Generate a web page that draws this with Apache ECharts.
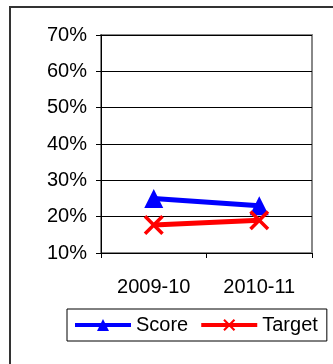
<!DOCTYPE html>
<html>
<head>
<meta charset="utf-8">
<script src="https://cdn.jsdelivr.net/npm/echarts@6/dist/echarts.min.js"></script>
<style>
  html, body { margin: 0; padding: 0; background: #fff; }
  #chart { width: 333px; height: 364px; }
</style>
</head>
<body>
<div id="chart"></div>
<script>
// Season categories and series values (percent)
const categories = ['2009-10', '2010-11'];
const scoreValues = [25, 23];
const targetValues = [17.7, 19];
const yTicks = { min: 10, max: 70, step: 10 };

const FONT = 'Liberation Sans, Arial, sans-serif';
const CROSS = 'path://M0,2.5 L2.5,0 L10,7.5 L17.5,0 L20,2.5 L12.5,10 L20,17.5 L17.5,20 L10,12.5 L2.5,20 L0,17.5 L7.5,10 Z';

const chart = echarts.init(document.getElementById('chart'), null, { renderer: 'canvas' });

chart.setOption({
  backgroundColor: '#fff',
  animation: false,
  graphic: [{
    type: 'rect',
    shape: { x: 10, y: 7, width: 340, height: 370 },
    style: { fill: 'none', stroke: '#333', lineWidth: 2 },
    silent: true
  }],
  grid: {
    left: 101, top: 35, width: 211, height: 218,
    show: true, borderColor: '#888', borderWidth: 2, backgroundColor: 'transparent'
  },
  legend: {
    left: 67, top: 309,
    padding: [6, 9, 6, 6],
    itemWidth: 56, itemHeight: 15, itemGap: 11,
    borderColor: '#000', borderWidth: 1,
    lineStyle: { width: 4 },
    textStyle: { fontFamily: FONT, fontSize: 20, color: '#000' },
    data: ['Score', 'Target']
  },
  xAxis: {
    type: 'category',
    data: categories,
    boundaryGap: true,
    axisLine: { lineStyle: { color: '#000', width: 1 } },
    axisTick: { show: true, length: 5, lineStyle: { color: '#000' } },
    axisLabel: { fontFamily: FONT, fontSize: 20, color: '#000', margin: 24 },
    splitLine: { show: false }
  },
  yAxis: {
    type: 'value',
    min: yTicks.min, max: yTicks.max, interval: yTicks.step,
    axisLine: { show: true, lineStyle: { color: '#000', width: 1 } },
    axisTick: { show: true, length: 5, lineStyle: { color: '#000' } },
    axisLabel: { fontFamily: FONT, fontSize: 20, color: '#000', margin: 14, formatter: '{value}%' },
    splitLine: { show: true, lineStyle: { color: '#000', width: 1 } }
  },
  series: [
    {
      name: 'Score', type: 'line', data: scoreValues,
      symbol: 'triangle', symbolSize: [19, 19],
      lineStyle: { color: '#0000ff', width: 5 },
      itemStyle: { color: '#0000ff' }
    },
    {
      name: 'Target', type: 'line', data: targetValues,
      symbol: CROSS, symbolSize: 20,
      lineStyle: { color: '#ff0000', width: 5 },
      itemStyle: { color: '#ff0000' }
    }
  ]
});
</script>
</body>
</html>
